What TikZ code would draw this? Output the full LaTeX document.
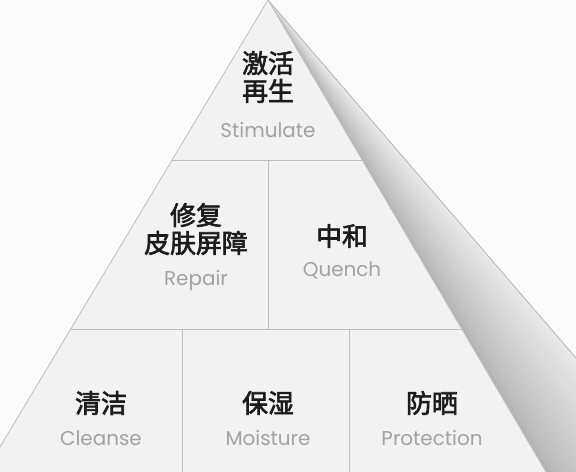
\documentclass[tikz,border=0pt]{standalone}
\usepackage{fontspec}
\usetikzlibrary{calc}
\newfontfamily\cjk[FakeBold=2.5]{Noto Sans CJK SC}
\newfontfamily\en{Poppins}
\definecolor{bgc}{HTML}{FBFBFB}
\definecolor{facec}{HTML}{F2F2F2}
\definecolor{linec}{HTML}{BEBEBE}
\definecolor{zh}{HTML}{1C1C1C}
\definecolor{engc}{HTML}{A2A2A2}
\definecolor{banddark}{HTML}{B4B4B4}
\definecolor{bandlight}{HTML}{E8E8E8}
\definecolor{bandedge}{HTML}{A6A6A6}
\tikzset{
  zhtext/.style={text=zh, font=\cjk\fontsize{26}{28}\selectfont, align=center, inner sep=0pt},
  entext/.style={text=engc, font=\en\fontsize{20}{22}\selectfont, inner sep=0pt},
  gridline/.style={draw=linec, line width=0.8bp}
}
\begin{document}
\begin{tikzpicture}[x=1bp,y=-1bp]
\useasboundingbox (0,0) rectangle (576,472);
\fill[bgc] (0,0) rectangle (576,472);
% key points
\coordinate (A) at (268,0);
\coordinate (BL) at (0,447);
\coordinate (BLc) at (0,472);
\coordinate (BR) at (546,472);
\coordinate (Q) at (674,472);
% right face (shaded band), angular strips
\begin{scope}
\clip (0,0) rectangle (576,472);
\foreach \i in {0,...,23}{
  \pgfmathsetmacro{\ta}{\i/24}
  \pgfmathsetmacro{\tb}{(\i+1)/24}
  \pgfmathsetmacro{\mix}{100-100*(\i/23)^0.75}
  \fill[banddark!\mix!bandlight, draw=banddark!\mix!bandlight, line width=0.3bp]
    (A) -- ($(BR)!\ta!(Q)$) -- ($(BR)!\tb!(Q)$) -- cycle;
}
\draw[draw=bandedge, line width=0.6bp] (A) -- (Q);
\end{scope}
% front face
\fill[facec] (A) -- (BL) -- (BLc) -- (BR) -- cycle;
\draw[gridline] (BL) -- (A) -- (BR);
% tier lines
\coordinate (L1) at (172.1,160);
\coordinate (R1) at (362.2,160);
\coordinate (L2) at (70.7,329);
\coordinate (R2) at (461.8,329);
\draw[gridline] (L1) -- (R1);
\draw[gridline] (L2) -- (R2);
\coordinate (V1t) at (268,160);
\coordinate (V1b) at (268,329);
\draw[gridline] (V1t) -- (V1b);
\coordinate (V2t) at (182,329);
\coordinate (V2b) at (182,472);
\coordinate (V3t) at (349,329);
\coordinate (V3b) at (349,472);
\draw[gridline] (V2t) -- (V2b);
\draw[gridline] (V3t) -- (V3b);
% texts
\node[zhtext] (t1) at (268,77) {激活\\再生};
\node[entext] (e1) at (268,130) {Stimulate};
\node[zhtext] (t2) at (196,229) {修复\\皮肤屏障};
\node[entext] (e2) at (196,281) {Repair};
\node[zhtext] (t3) at (342,236) {中和};
\node[entext] (e3) at (342,270) {Quench};
\node[zhtext] (t4) at (101,403) {清洁};
\node[entext] (e4) at (101,438) {Cleanse};
\node[zhtext] (t5) at (268,403) {保湿};
\node[entext] (e5) at (268,438) {Moisture};
\node[zhtext] (t6) at (432,403) {防晒};
\node[entext] (e6) at (432,438) {Protection};
\end{tikzpicture}
\end{document}
